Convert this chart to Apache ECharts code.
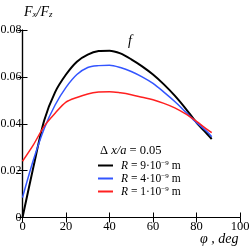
<!DOCTYPE html>
<html><head><meta charset="utf-8">
<script src="https://cdn.jsdelivr.net/npm/echarts@6/dist/echarts.min.js"></script>
<style>html,body{margin:0;padding:0;background:#fff}#c{width:249px;height:249px}</style>
</head><body><div id="c"></div>
<script>
var phi = [0,5,10,15,20,25,30,35,40,45,50,55,60,65,70,75,80,85,87];
var fR9 = [0,0.0215,0.0415,0.0535,0.061,0.0665,0.0695,0.071,0.0712,0.070,0.0675,0.0645,0.061,0.0568,0.052,0.0465,0.0405,0.0355,0.0335];
var fR4 = [0.0085,0.0245,0.038,0.048,0.0555,0.061,0.064,0.0648,0.065,0.064,0.0623,0.060,0.0572,0.0535,0.0495,0.045,0.0405,0.0365,0.0345];
var fR1 = [0.024,0.031,0.039,0.0445,0.0492,0.0512,0.0527,0.0535,0.0537,0.0532,0.0524,0.0513,0.0502,0.0487,0.0468,0.0442,0.041,0.0375,0.0362];
var seriesNames = ['R9','R4','R1'];
var seriesLabels = {R9:'9', R4:'4', R1:'1'};
var xTicks = [0,20,40,60,80,100];
var yTicks = [0,0.02,0.04,0.06,0.08];

function pairs(ys){ return phi.map(function(x,i){ return [x, ys[i]]; }); }
var font = '"Liberation Serif", "DejaVu Serif", serif';
var chart = echarts.init(document.getElementById('c'), null, {renderer:'canvas'});
var axLine = {lineStyle:{color:'#000', width:1.2}};
var tick = {inside:true, length:5, lineStyle:{color:'#000', width:1}};
chart.setOption({
  animation:false,
  backgroundColor:'#fff',
  grid:{left:22.5, right:9, top:30, bottom:31.5, containLabel:false, outerBoundsMode:'none'},
  xAxis:[
    {type:'value', min:0, max:100, interval:20, axisLine:axLine, axisTick:tick, splitLine:{show:false},
     axisLabel:{fontFamily:font, fontSize:12.5, color:'#000', margin:3}},
    {type:'value', position:'top', min:0, max:100, interval:20, axisLine:axLine, axisTick:tick, splitLine:{show:false}, axisLabel:{show:false}}
  ],
  yAxis:[
    {type:'value', min:0, max:0.08, interval:0.02, axisLine:axLine, axisTick:tick, splitLine:{show:false},
     axisLabel:{fontFamily:font, fontSize:12, color:'#000', margin:1, formatter:function(v){return v===0?'0':v.toFixed(2);}}},
    {type:'value', position:'right', min:0, max:0.08, interval:0.02, axisLine:axLine, axisTick:tick, splitLine:{show:false}, axisLabel:{show:false}}
  ],
  legend:{
    orient:'vertical', left:93, top:154, itemWidth:15, itemHeight:2, itemGap:0, icon:'rect',
    data:seriesNames,
    formatter:function(n){ return '{i|R} = ' + seriesLabels[n] + '·10{s|−9} m'; },
    textStyle:{fontFamily:font, fontSize:11.5, color:'#000', lineHeight:13, padding:[0,0,0,3],
      rich:{i:{fontStyle:'italic', fontFamily:font, fontSize:11.5, lineHeight:13}, s:{fontFamily:font, fontSize:7, lineHeight:13, padding:[0,0,5,0]}}}
  },
  series:[
    {name:'R9', type:'line', data:pairs(fR9), showSymbol:false, smooth:0.3, lineStyle:{color:'#000', width:2}, itemStyle:{color:'#000'}},
    {name:'R4', type:'line', data:pairs(fR4), showSymbol:false, smooth:0.3, lineStyle:{color:'#3355ff', width:1.5}, itemStyle:{color:'#3355ff'}},
    {name:'R1', type:'line', data:pairs(fR1), showSymbol:false, smooth:0.3, lineStyle:{color:'#ff2020', width:1.5}, itemStyle:{color:'#ff2020'}}
  ],
  graphic:[
    {type:'text', left:24, top:5, style:{text:'{f|F}{s|x}{f|/F}{s|z}', fontFamily:font,
      rich:{f:{fontStyle:'italic', fontFamily:font, fontSize:14}, s:{fontStyle:'italic', fontFamily:font, fontSize:9, padding:[6,0,0,0]}}}},
    {type:'text', left:128, top:34, style:{text:'f', fontFamily:font, fontStyle:'italic', fontSize:14, fill:'#000'}},
    {type:'text', left:100, top:144, style:{text:'Δ {i|x/a} = 0.05', fontFamily:font, fontSize:12.5, fill:'#000',
      rich:{i:{fontStyle:'italic', fontFamily:font, fontSize:12.5}}}},
    {type:'text', left:200, top:232, style:{text:'φ , deg', fontFamily:font, fontStyle:'italic', fontSize:14, fill:'#000'}}
  ]
});
</script></body></html>
